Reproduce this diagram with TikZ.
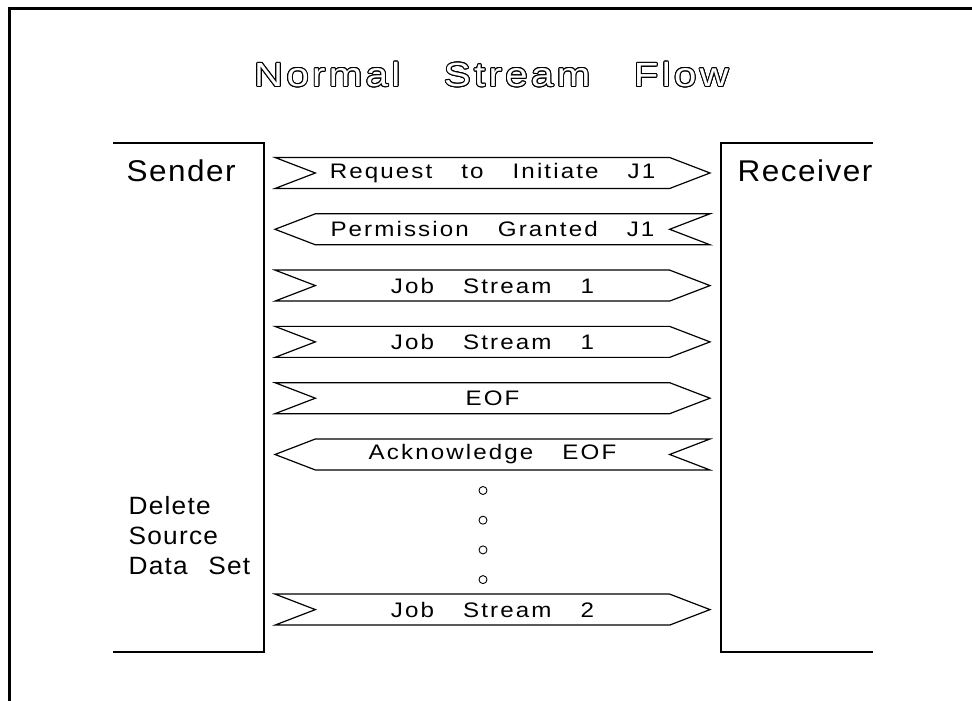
\documentclass[tikz,border=0pt]{standalone}
\usepackage{fontspec}
\usepackage{contour}
\usetikzlibrary{shapes,positioning}
\newfontfamily\plotfont[FakeStretch=1.15,LetterSpace=10,WordSpace=3.3]{Liberation Sans}
\newfontfamily\labelfont[FakeStretch=1.05,LetterSpace=5,WordSpace=2.4]{Liberation Sans}
\newfontfamily\titlefont[FakeStretch=1.2,LetterSpace=10,WordSpace=3]{Liberation Sans}
\contourlength{1pt}

\begin{document}
\begin{tikzpicture}[x=1pt, y=1pt, node distance=56.3pt, line width=1.2pt]
    \tikzstyle{msg} = [signal, draw, signal pointer angle=42, minimum width=435pt, minimum height=31pt, inner sep=0pt, font=\plotfont\fontsize{21}{25}\selectfont]
    \tikzstyle{sendmsg} = [msg, signal from=west, signal to=east]
    \tikzstyle{replymsg} = [msg, signal from=east, signal to=west]
    \tikzstyle{party} = [anchor=west, inner sep=0pt, font=\labelfont\fontsize{30}{36}\selectfont]
    \tikzstyle{waitdot} = [circle, draw, line width=0.9pt, minimum size=8pt, inner sep=0pt]

    \useasboundingbox (0,0) rectangle (972,701);

    % Frame
    \draw [line width=3pt] (9.5,0) -- (9.5,692) -- (972,692);

    % Title
    \node [text=white, font=\titlefont\fontsize{33.5}{40}\selectfont] (title) at (491.5,626) {\contour{black}{Normal Stream Flow}};

    % Sender and receiver columns
    \draw (113,558) -- (264,558) -- (264,49) -- (113,49);
    \draw (873,558) -- (721,558) -- (721,49) -- (873,49);
    \node [party] (sender) at (126,530) {Sender};
    \node [party] (receiver) at (737,530) {Receiver};
    \node [anchor=west, inner sep=0pt, align=left, font=\labelfont\fontsize{25}{30}\selectfont] (delete) at (128,165) {Delete\\Source\\Data Set};

    % Messages
    \node [sendmsg] (request) at (492.5,528) {Request to Initiate J1};
    \node [replymsg, below of=request] (permit) {Permission Granted J1};
    \node [sendmsg, below of=permit] (jobA) {Job Stream 1};
    \node [sendmsg, below of=jobA] (jobB) {Job Stream 1};
    \node [sendmsg, below of=jobB] (eof) {EOF};
    \node [replymsg, below of=eof] (ackeof) {Acknowledge EOF};

    % Waiting
    \node [waitdot, below of=ackeof, node distance=36pt, xshift=-9.5pt] (dotA) {};
    \node [waitdot, below of=dotA, node distance=29.7pt] (dotB) {};
    \node [waitdot, below of=dotB, node distance=29.7pt] (dotC) {};
    \node [waitdot, below of=dotC, node distance=29.7pt] (dotD) {};

    \node [sendmsg, below of=dotD, node distance=30pt, xshift=9.5pt] (jobC) {Job Stream 2};
\end{tikzpicture}
\end{document}
